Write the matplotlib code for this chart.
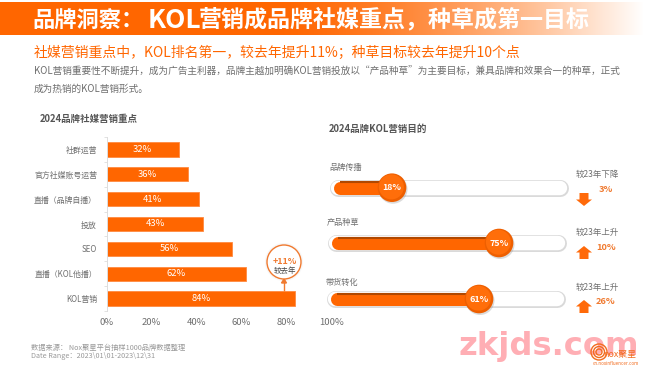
import numpy as np
import matplotlib
matplotlib.use("Agg")
import matplotlib.pyplot as plt
from matplotlib.patches import Circle, Polygon

plt.rcParams['font.family'] = ['Noto Sans CJK SC', 'DejaVu Sans']

title_parts = ["品牌洞察\uff1a", "KOL", "营销成品牌社媒重点\uff0c种草成第一目标"]
subtitle = "社媒营销重点中\uff0cKOL排名第一\uff0c较去年提升11%\uff1b种草目标较去年提升10个点"
para = ["KOL营销重要性不断提升\uff0c成为广告主利器\uff0c品牌主越加明确KOL营销投放以\u201c产品种草\u201d为主要目标\uff0c兼具品牌和效果合一的种草\uff0c正式",
        "成为热销的KOL营销形式。"]
bar_title = "2024品牌社媒营销重点"
slider_title = "2024品牌KOL营销目的"
bar_labels = ["社群运营", "官方社媒账号运营", "直播\uff08品牌自播\uff09", "投放", "SEO", "直播\uff08KOL他播\uff09", "KOL营销"]
bar_values = [32, 36, 41, 43, 56, 62, 84]
x_ticks = [0, 20, 40, 60, 80, 100]
goal_labels = ["品牌传播", "产品种草", "带货转化"]
goal_values = [18, 75, 61]
goal_changes = [-3, 10, 26]
footer = ["数据来源\uff1a Nox聚星平台抽样1000品牌数据整理", "Date Range\uff1a2023\\01\\01-2023\\12\\31"]

W, H = 661, 375
ORANGE = "#FF6600"
GREY = "#6E6E6E"
fig = plt.figure(figsize=(W / 100, H / 100), dpi=100, facecolor="white")

def box(l, t, r, b):
    return [l / W, 1 - b / H, (r - l) / W, (b - t) / H]

ov = fig.add_axes([0, 0, 1, 1], zorder=1)
grad = np.ones((1, 661, 3))
base = np.array([1.0, 0.4, 0.0])
for i in range(661):
    t = np.clip((i - 270) / (643 - 270), 0, 1) ** 1.5
    grad[0, i] = base * (1 - t) + t
ov.imshow(grad, extent=[0, 661, 35, 2], aspect="auto", zorder=1)
ov.set_xlim(0, W)
ov.set_ylim(H, 0)
ov.axis("off")
ov.text(32, 20, title_parts[0], color="white", fontsize=16, fontweight="bold", va="center", ha="left", zorder=3)
ov.text(148, 20, title_parts[1], color="white", fontsize=19, fontweight="bold", va="center", ha="left", zorder=3)
ov.text(199, 20, title_parts[2], color="white", fontsize=16.6, fontweight="bold", va="center", ha="left", zorder=3)
ov.text(34, 52.5, subtitle, color=ORANGE, fontsize=10, va="center", zorder=3)
ov.text(34, 72, para[0], color=GREY, fontsize=6.95, va="center", zorder=3)
ov.text(34, 89, para[1], color=GREY, fontsize=6.95, va="center", zorder=3)
ov.text(40, 119, bar_title, color="#555555", fontsize=6.8, fontweight="bold", va="center", zorder=3)
ov.text(329, 129, slider_title, color="#555555", fontsize=6.8, fontweight="bold", va="center", zorder=3)

ax = fig.add_axes(box(106.7, 137, 331.2, 311), zorder=2)
ax.patch.set_alpha(0)
y = np.arange(len(bar_values))
ax.barh(y, bar_values, height=0.58, color=ORANGE, edgecolor="#FF8A40", linewidth=0.6)
for yi, v in zip(y, bar_values):
    ax.text(v / 2, yi, f"{v}%", color="white", fontsize=6.8, ha="center", va="center")
ax.set_xlim(0, 100)
ax.set_ylim(len(y) - 0.5, -0.5)
ax.set_yticks(y, bar_labels, fontsize=5.7, color=GREY)
ax.set_yticks(np.arange(len(y) + 1) - 0.5, minor=True)
ax.set_xticks(x_ticks, [f"{t}%" for t in x_ticks], fontsize=6.8, color=GREY)
ax.tick_params(axis="y", which="major", length=0, pad=7)
ax.tick_params(axis="y", which="minor", length=2, color="#DDDDDD", width=0.6)
ax.tick_params(axis="x", length=0, pad=5)
for s in ["top", "right", "bottom"]:
    ax.spines[s].set_visible(False)
ax.spines["left"].set_color("#DDDDDD")
ax.spines["left"].set_linewidth(0.7)

ov.plot([284, 284], [279, 291], color="#F07A30", lw=1, zorder=4)
ov.add_patch(Polygon([[281.5, 283], [286.5, 283], [284, 279]], color="#F07A30", zorder=4))
ov.add_patch(Circle((284, 262), 19, fc="#EEEEEE", ec="none", alpha=0.5, zorder=3))
ov.add_patch(Circle((284, 262), 17, fc="white", ec="#F07A30", lw=1, zorder=4))
ov.text(284.5, 261, "+11%", color="#F07A30", fontsize=6.4, fontweight="bold", ha="center", va="center", zorder=5)
ov.text(284.5, 271, "较去年", color="#444444", fontsize=5.4, ha="center", va="center", zorder=5)

rows_y = [187.7, 243, 299]
tr_l = [330, 328, 327]
tr_r = [568, 566, 565]
handle_x = [392, 499, 479]
label_y = [167, 223, 282]
note_y = [174, 232, 287]
pct_y = [189, 248, 302]
arrow_y = [199, 253, 307]
ka = fig.add_axes([0, 0, 1, 1], zorder=4)
ka.set_xlim(0, W)
ka.set_ylim(H, 0)
ka.axis("off")
ka.patch.set_alpha(0)
for i, (lab, val, ch) in enumerate(zip(goal_labels, goal_values, goal_changes)):
    yc, l, r, hx = rows_y[i], tr_l[i], tr_r[i], handle_x[i]
    ov.plot([l + 8, r - 8], [yc, yc], color="#D9D9D9", lw=12.2, solid_capstyle="round", zorder=2)
    ov.plot([l + 8, r - 8], [yc, yc], color="white", lw=10.4, solid_capstyle="round", zorder=2.1)
    fl = l + 3
    scale = (hx - fl) / val
    sa = fig.add_axes(box(fl, yc - 7, fl + 100 * scale, yc + 7), zorder=3)
    sa.set_xlim(0, 100)
    sa.set_ylim(-1, 1)
    sa.axis("off")
    sa.patch.set_alpha(0)
    cap = 6.5 / scale
    sa.plot([cap, val], [0, 0], color=ORANGE, lw=9.4, solid_capstyle="round", clip_on=False)
    sa.plot([cap, val], [0.78, 0.78], color="#B04800", lw=1.5, solid_capstyle="butt", clip_on=False)
    ka.add_patch(Circle((hx + 1, yc + 1.5), 14.5, fc="#999999", ec="none", alpha=0.35))
    ka.add_patch(Circle((hx, yc), 14.3, fc="#EE5F00", ec="none"))
    ka.add_patch(Circle((hx - 0.6, yc - 0.8), 12.5, fc="#FF6E0A", ec="none"))
    ka.text(hx, yc, f"{val}%", color="white", fontsize=6.4, fontweight="bold", ha="center", va="center")
    ov.text(l - 1, label_y[i], lab, color=GREY, fontsize=5.9, va="center", zorder=3)
    word = "上升" if ch > 0 else "下降"
    ov.text(597.5, note_y[i], f"较23年{word}", color=GREY, fontsize=6.1, ha="center", va="center", zorder=3)
    ov.text(606, pct_y[i], f"{abs(ch)}%", color="#F07A30", fontsize=6.6, fontweight="bold", ha="center", va="center", zorder=3)
    ay = arrow_y[i]
    d = 1 if ch > 0 else -1
    ax_c = 584
    ov.add_patch(Polygon([[ax_c, ay - d * 7], [ax_c + 8, ay - d * 0.5], [ax_c + 4.5, ay - d * 0.5],
                          [ax_c + 4.5, ay + d * 6], [ax_c - 4.5, ay + d * 6], [ax_c - 4.5, ay - d * 0.5],
                          [ax_c - 8, ay - d * 0.5]], color="#FF6A0A", lw=0, zorder=3))

ov.text(31, 348, footer[0], color="#999999", fontsize=5.2, va="center", zorder=3)
ov.text(31, 356.5, footer[1], color="#999999", fontsize=5.2, va="center", zorder=3)

ov.text(458, 355, "zkjds.com", color="#FFAEB4", fontsize=23.2, fontweight="bold", family="DejaVu Sans", va="baseline", ha="left", zorder=6)
for rad, a1 in [(8, 0), (5.5, 0), (3, 0)]:
    ov.add_patch(Circle((599, 352), rad, fc="none", ec="#F26B1D", lw=1, zorder=7))
ov.text(620, 355, "nox聚星", color="#F26B1D", fontsize=6.4, ha="center", va="center", zorder=7)
ov.text(616, 363.5, "cn.noxinfluencer.com", color="#F26B1D", fontsize=3.3, ha="center", va="center", zorder=7)

fig.savefig("out.png", dpi=100)
